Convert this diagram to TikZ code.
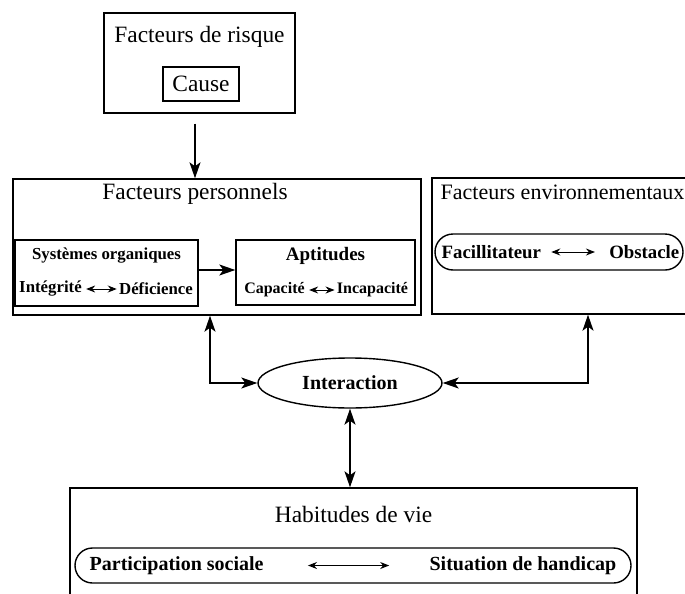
\documentclass[tikz,border=0pt]{standalone}
\usepackage{fontspec}
\setmainfont{Liberation Serif}
\usepackage{tikz}
\usetikzlibrary{shapes.geometric,arrows.meta,positioning,calc}

\begin{document}
\begin{tikzpicture}[x=0.5pt,y=-0.5pt,
  box/.style={draw,line width=.7pt,inner sep=0pt},
  pill/.style={draw,line width=.7pt,inner sep=0pt,rounded corners=#1},
  title/.style={font=\fontsize{11.7}{14}\selectfont,inner sep=1pt},
  lbl/.style={font=\bfseries\fontsize{10}{12}\selectfont,inner sep=1pt},
  sm/.style={font=\bfseries\fontsize{8.4}{10}\selectfont,inner sep=1pt},
  big/.style={line width=.6pt,-{Stealth[length=8pt,width=5.5pt,inset=2pt]}},
  dbl/.style={line width=.6pt,{Stealth[length=8pt,width=5.5pt,inset=2pt]}-{Stealth[length=8pt,width=5.5pt,inset=2pt]}},
  tiny/.style={line width=.5pt,{Stealth[length=4.5pt,width=3.5pt]}-{Stealth[length=4.5pt,width=3.5pt]}}
]
  \useasboundingbox (0,0) rectangle (685,594);

  % risk factors
  \node[box, minimum width=95.5pt, minimum height=50pt] at (199.5,63) (risk) {};
  \node[title] at ([yshift=13pt]risk.center) (riskt) {Facteurs de risque};
  \node[box, line width=.6pt, minimum width=38pt, minimum height=17pt, title] at ([xshift=.75pt,yshift=-10.5pt]risk.center) (cause) {Cause};

  % personal factors
  \node[box, minimum width=204pt, minimum height=68pt] at (217,247) (pers) {};
  \node[title] at ([xshift=-11pt,yshift=26.5pt]pers.center) (perst) {Facteurs personnels};
  \node[box, minimum width=91.5pt, minimum height=33pt] at ([xshift=-55.25pt,yshift=-13pt]pers.center) (sys) {};
  \node[sm] at ([yshift=8.5pt]sys.center) (syst) {Systèmes organiques};
  \node[sm] at ([xshift=-28pt,yshift=-8pt]sys.center) (integ) {Intégrité};
  \node[sm] at ([xshift=24.75pt,yshift=-8pt]sys.center) (defic) {Déficience};
  \node[box, minimum width=89.5pt, minimum height=32.5pt] at (325.5,272.5) (apt) {};
  \node[sm, font=\bfseries\fontsize{9.5}{11}\selectfont] at ([yshift=8.25pt]apt.center) (aptt) {Aptitudes};
  \node[sm, font=\bfseries\fontsize{8}{10}\selectfont] at ([xshift=-25.5pt,yshift=-8.75pt]apt.center) (capa) {Capacité};
  \node[sm, font=\bfseries\fontsize{8}{10}\selectfont] at ([xshift=23.5pt,yshift=-8.75pt]apt.center) (incapa) {Incapacité};

  % environmental factors
  \node[box, minimum width=130pt, minimum height=68pt] at (562,246) (env) {};
  \node[title, font=\fontsize{11}{13}\selectfont, anchor=west] at ([xshift=3.5pt,yshift=-7.5pt]env.north west) (envt) {Facteurs environnementaux};
  \node[pill=9pt, minimum width=124pt, minimum height=18pt] at ([xshift=-1.5pt,yshift=-3pt]env.center) (envp) {};
  \node[lbl, font=\bfseries\fontsize{9.4}{11}\selectfont, anchor=west] at ([xshift=2.5pt]envp.west) (facil) {Facillitateur};
  \node[lbl, font=\bfseries\fontsize{9.4}{11}\selectfont, anchor=east] at ([xshift=-1pt]envp.east) (obst) {Obstacle};

  % interaction
  \node[draw, line width=.7pt, ellipse, inner sep=0pt, minimum width=92pt, minimum height=25pt, lbl] at (350,383) (inter) {Interaction};

  % life habits
  \node[box, minimum width=283.5pt, minimum height=66pt] at (353.5,554) (hab) {};
  \node[title] at ([yshift=-13.5pt]hab.north) (habt) {Habitudes de vie};
  \node[pill=8.75pt, minimum width=278pt, minimum height=17.5pt] at (353,565.5) (habp) {};
  \node[lbl, anchor=west] at ([xshift=6.5pt]habp.west) (partic) {Participation sociale};
  \node[lbl, anchor=east] at ([xshift=-6.5pt]habp.east) (situ) {Situation de handicap};

  % connectors
  \draw[big] ([xshift=-2.25pt,yshift=-5pt]risk.south) -- ([xshift=-2.25pt]risk.south |- pers.north);
  \draw[big] ([yshift=1.5pt]sys.east) -- ([yshift=1.5pt]sys.east -| apt.west);
  \draw[dbl] (inter.west) -| ([xshift=-3.5pt]pers.south);
  \draw[dbl] (inter.east) -| ([xshift=13pt]env.south);
  \draw[dbl] (inter.south) -- (inter.south |- hab.north);

  \draw[tiny, shorten <=1pt, shorten >=0pt] (integ) -- (defic);
  \draw[tiny, shorten <=1pt, shorten >=0pt] (capa) -- (incapa);
  \draw[tiny, shorten <=4pt, shorten >=6pt] (facil) -- (obst);
  \draw[tiny, shorten <=21pt, shorten >=19pt] (partic) -- (situ);
\end{tikzpicture}
\end{document}
